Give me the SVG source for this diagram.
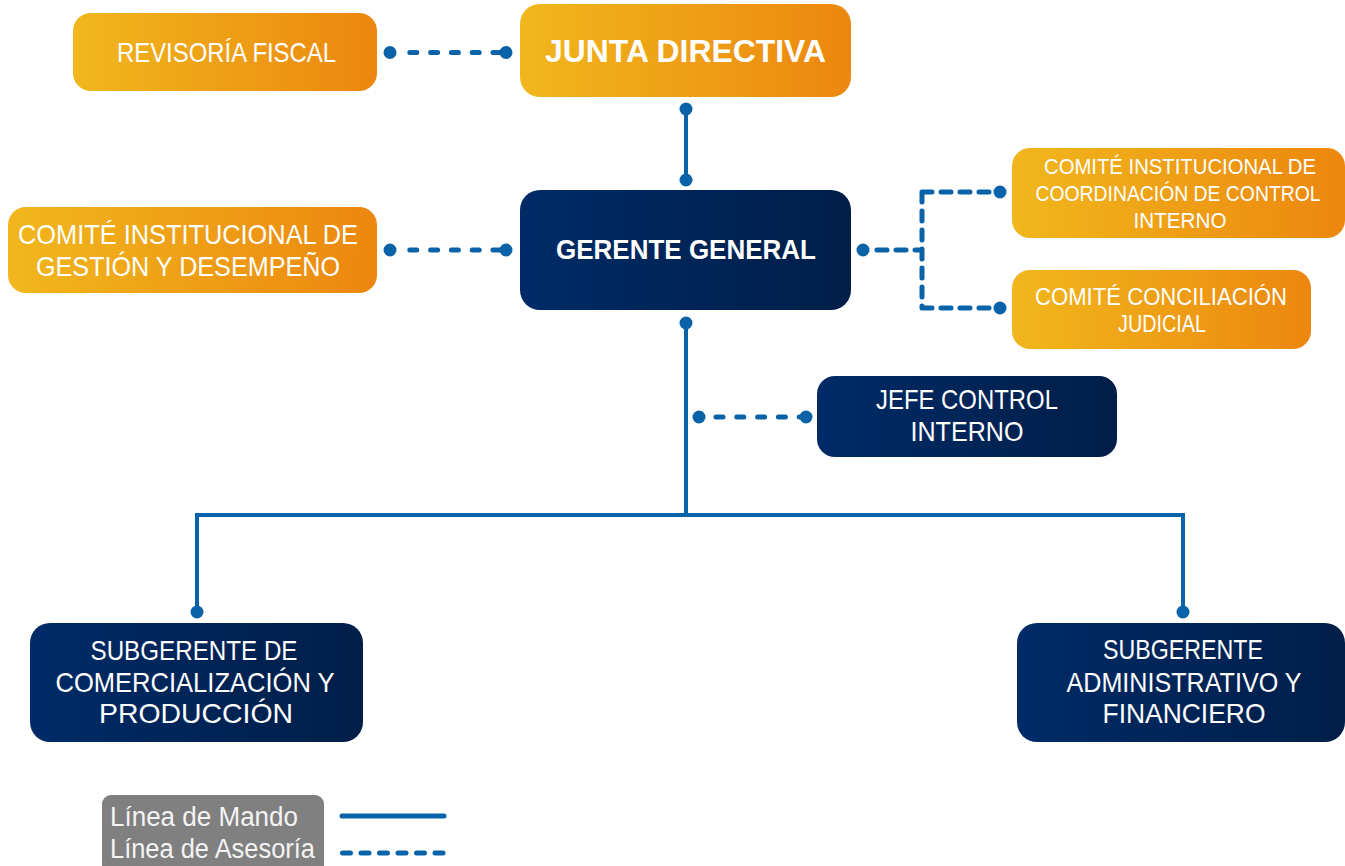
<svg xmlns="http://www.w3.org/2000/svg" width="1345" height="866" viewBox="0 0 1345 866">
<defs>
<linearGradient id="gO" x1="0" y1="0" x2="1" y2="0">
<stop offset="0" stop-color="#F1B71D"/>
<stop offset="1" stop-color="#EC870F"/>
</linearGradient>
<linearGradient id="gN" x1="0" y1="0" x2="1" y2="0">
<stop offset="0" stop-color="#002B67"/>
<stop offset="1" stop-color="#001E48"/>
</linearGradient>
<style>
.o{fill:url(#gO)}
.n{fill:url(#gN)}
text{font-family:"Liberation Sans",Arial,sans-serif;fill:#FFFFFF;text-anchor:middle}
.t{font-size:28px}
.s{font-size:23px}
.b{font-weight:bold}
.sol{stroke:#0A63A8;stroke-width:4;fill:none}
.das{stroke:#0A63A8;stroke-width:5;fill:none;stroke-dasharray:7 13.8;stroke-linecap:round}
.dot{fill:#0A63A8}
</style>
</defs>
<rect width="1345" height="866" fill="#FFFFFF"/>

<g id="connectors">
<line class="das" x1="409.8" y1="52.5" x2="506" y2="52.5"/>
<circle class="dot" cx="390" cy="52.5" r="6.5"/>
<circle class="dot" cx="506" cy="52.5" r="6.5"/>

<line class="sol" x1="686" y1="109" x2="686" y2="180"/>
<circle class="dot" cx="686" cy="109" r="6.5"/>
<circle class="dot" cx="686" cy="180" r="6.5"/>

<line class="das" x1="409.8" y1="250" x2="506" y2="250"/>
<circle class="dot" cx="390" cy="250" r="6.5"/>
<circle class="dot" cx="506" cy="250" r="6.5"/>

<path class="das" d="M877 250 H922 M922 192 V308 M922 192 H1000 M922 308 H1000" style="stroke-dasharray:10 9"/>
<circle class="dot" cx="863" cy="250" r="6.5"/>
<circle class="dot" cx="1000" cy="192" r="6.5"/>
<circle class="dot" cx="1000" cy="308" r="6.5"/>

<line class="sol" x1="686" y1="323" x2="686" y2="515"/>
<circle class="dot" cx="686" cy="323" r="6.5"/>

<line class="das" x1="716" y1="417" x2="806" y2="417"/>
<circle class="dot" cx="699" cy="417" r="6.5"/>
<circle class="dot" cx="806" cy="417" r="6.5"/>

<path class="sol" d="M197 612 V515 H1183 V612"/>
<circle class="dot" cx="197" cy="612" r="6.5"/>
<circle class="dot" cx="1183" cy="612" r="6.5"/>
</g>

<g id="revisoria">
<rect class="o" x="73" y="13" width="304" height="78" rx="18"/>
<text class="t" x="226.5" y="62" textLength="219" lengthAdjust="spacingAndGlyphs">REVISORÍA FISCAL</text>
</g>

<g id="junta">
<rect class="o" x="520" y="4" width="331" height="93" rx="20"/>
<text class="b" x="685.5" y="62" font-size="32" textLength="281" lengthAdjust="spacingAndGlyphs">JUNTA DIRECTIVA</text>
</g>

<g id="gerente">
<rect class="n" x="520" y="190" width="331" height="120" rx="20"/>
<text class="t b" x="686" y="259" textLength="260" lengthAdjust="spacingAndGlyphs">GERENTE GENERAL</text>
</g>

<g id="comite-gestion">
<rect class="o" x="8" y="207" width="369" height="86" rx="18"/>
<text class="t" x="188" y="244" textLength="340" lengthAdjust="spacingAndGlyphs">COMITÉ INSTITUCIONAL DE</text>
<text class="t" x="188" y="276" textLength="304" lengthAdjust="spacingAndGlyphs">GESTIÓN Y DESEMPEÑO</text>
</g>

<g id="comite-control">
<rect class="o" x="1012" y="148" width="333" height="90" rx="18"/>
<text x="1180" y="174" style="font-size:22px" textLength="272" lengthAdjust="spacingAndGlyphs">COMITÉ INSTITUCIONAL DE</text>
<text transform="translate(1178 201) scale(0.88 1)" x="0" y="0" style="font-size:22px">COORDINACIÓN DE CONTROL</text>
<text x="1180" y="228" style="font-size:22px" textLength="93" lengthAdjust="spacingAndGlyphs">INTERNO</text>
</g>

<g id="comite-conciliacion">
<rect class="o" x="1012" y="270" width="299" height="79" rx="18"/>
<text class="s" x="1161" y="305" textLength="252" lengthAdjust="spacingAndGlyphs">COMITÉ CONCILIACIÓN</text>
<text class="s" x="1162" y="332" textLength="88" lengthAdjust="spacingAndGlyphs">JUDICIAL</text>
</g>

<g id="jefe-control">
<rect class="n" x="817" y="376" width="300" height="81" rx="18"/>
<text class="t" x="967" y="409" textLength="182" lengthAdjust="spacingAndGlyphs">JEFE CONTROL</text>
<text class="t" x="967" y="441" textLength="113" lengthAdjust="spacingAndGlyphs">INTERNO</text>
</g>

<g id="subgerente-comercializacion">
<rect class="n" x="30" y="623" width="333" height="119" rx="20"/>
<text class="t" x="194" y="660" textLength="207" lengthAdjust="spacingAndGlyphs">SUBGERENTE DE</text>
<text class="t" x="195" y="692" textLength="279" lengthAdjust="spacingAndGlyphs">COMERCIALIZACIÓN Y</text>
<text class="t" x="196" y="723" textLength="194" lengthAdjust="spacingAndGlyphs">PRODUCCIÓN</text>
</g>

<g id="subgerente-administrativo">
<rect class="n" x="1017" y="623" width="328" height="119" rx="20"/>
<text class="t" x="1183" y="659" textLength="160" lengthAdjust="spacingAndGlyphs">SUBGERENTE</text>
<text class="t" x="1184" y="692" textLength="235" lengthAdjust="spacingAndGlyphs">ADMINISTRATIVO Y</text>
<text class="t" x="1184" y="723" textLength="163" lengthAdjust="spacingAndGlyphs">FINANCIERO</text>
</g>

<g id="legend">
<rect x="102" y="795" width="222" height="80" rx="9" fill="#808080"/>
<text x="110" y="826" font-size="27" style="text-anchor:start;fill:#F4F4F4" textLength="188" lengthAdjust="spacingAndGlyphs">Línea de Mando</text>
<text x="110" y="858" font-size="27" style="text-anchor:start;fill:#F4F4F4" textLength="205" lengthAdjust="spacingAndGlyphs">Línea de Asesoría</text>
<line x1="342" y1="816" x2="444" y2="816" stroke="#0A63A8" stroke-width="5" stroke-linecap="round"/>
<line x1="342.5" y1="853" x2="444" y2="853" stroke="#0A63A8" stroke-width="5" stroke-linecap="round" stroke-dasharray="8 10.5"/>
</g>
</svg>
